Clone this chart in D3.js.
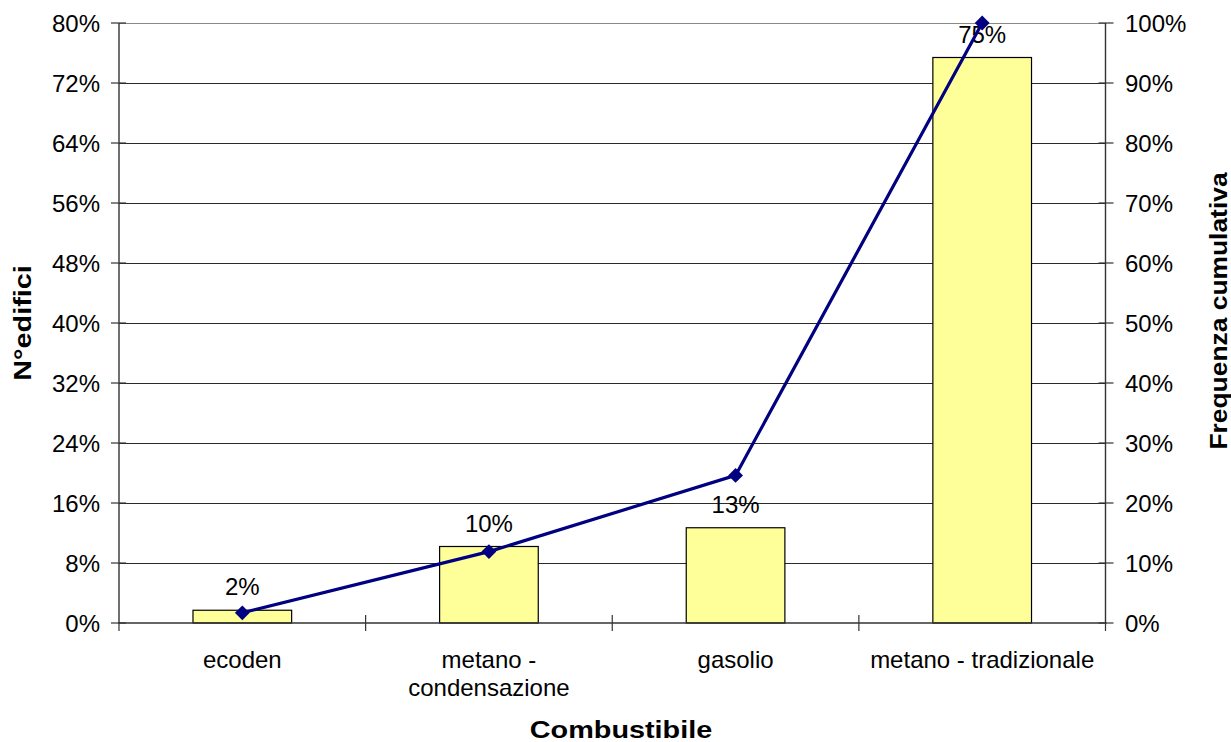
<!DOCTYPE html>
<html>
<head>
<meta charset="utf-8">
<script src="https://cdn.jsdelivr.net/npm/d3@7"></script>
<style>
  html, body { margin: 0; padding: 0; background: #fff; }
  svg { display: block; font-family: "Liberation Sans", Arial, sans-serif; }
</style>
</head>
<body>
<svg id="chart" width="1231" height="742"></svg>
<script>
// ---- data ----
const categories = ["ecoden", "metano - condensazione", "gasolio", "metano - tradizionale"];
const categoryLines = [["ecoden"], ["metano -", "condensazione"], ["gasolio"], ["metano - tradizionale"]];
const shares = [1.7, 10.2, 12.7, 75.4];          // N° edifici (%)
const cumulative = [1.7, 11.9, 24.6, 100];       // Frequenza cumulativa (%)
const leftTicks = [0, 8, 16, 24, 32, 40, 48, 56, 64, 72, 80];
const rightTicks = [0, 10, 20, 30, 40, 50, 60, 70, 80, 90, 100];
const xTitle = "Combustibile";
const yLeftTitle = "N°edifici";
const yRightTitle = "Frequenza cumulativa";

// ---- layout ----
const svg = d3.select("#chart");
const L = 119, R = 1105.5, T = 23, B = 623;

const x = d3.scaleBand().domain(categories).range([L, R]).paddingInner(0.6).paddingOuter(0.3);
const xOuter = d3.scaleBand().domain(categories).range([L, R]);
const yL = d3.scaleLinear().domain([0, 80]).range([B, T]);
const yR = d3.scaleLinear().domain([0, 100]).range([B, T]);

function sText(parent, px, py, str, opts) {
  const g = parent.append("g")
    .attr("transform", `translate(${px},${py}) rotate(${opts.rotate || 0}) scale(${opts.sx || 1},1)`);
  g.append("text")
    .attr("x", 0).attr("y", 0)
    .attr("text-anchor", opts.anchor || "middle")
    .attr("font-size", opts.size || 24)
    .attr("font-weight", opts.weight || "normal")
    .attr("fill", "#000")
    .text(str);
  return g;
}

// gridlines
svg.append("g").selectAll("line").data(leftTicks.filter(d => d > 0)).join("line")
  .attr("x1", L).attr("x2", R)
  .attr("y1", d => Math.round(yL(d)) + 0.5).attr("y2", d => Math.round(yL(d)) + 0.5)
  .attr("stroke", d => d === 80 ? "#8a8a8a" : "#2a2a2a").attr("stroke-width", 1);

// bars
svg.append("g").selectAll("rect").data(shares).join("rect")
  .attr("x", (d, i) => x(categories[i]))
  .attr("width", x.bandwidth())
  .attr("y", d => yL(d))
  .attr("height", d => B - yL(d))
  .attr("fill", "#FFFF99")
  .attr("stroke", "#000")
  .attr("stroke-width", 1.2);

// axes lines
const ax = svg.append("g").attr("stroke", "#333").attr("stroke-width", 1.4);
ax.append("line").attr("x1", L).attr("x2", L).attr("y1", T).attr("y2", B);
ax.append("line").attr("x1", R).attr("x2", R).attr("y1", T).attr("y2", B);
ax.append("line").attr("x1", L - 1).attr("x2", R + 1).attr("y1", B).attr("y2", B);

// left ticks & labels
const lt = svg.append("g");
leftTicks.forEach(v => {
  const yy = yL(v);
  lt.append("line").attr("x1", L - 8).attr("x2", L + 7).attr("y1", yy).attr("y2", yy)
    .attr("stroke", "#333").attr("stroke-width", 1.2);
  sText(lt, 100, yy + 8.5, v + "%", { anchor: "end", size: 24 });
});
// right ticks & labels
rightTicks.forEach(v => {
  const yy = yR(v);
  lt.append("line").attr("x1", R - 7).attr("x2", R + 8).attr("y1", yy).attr("y2", yy)
    .attr("stroke", "#333").attr("stroke-width", 1.2);
  sText(lt, 1125, yy + 8.5, v + "%", { anchor: "start", size: 24 });
});
// category ticks
const bounds = categories.map(c => xOuter(c)).concat([R]);
bounds.forEach((bx, i) => {
  lt.append("line").attr("x1", bx).attr("x2", bx)
    .attr("y1", (i === 0 || i === bounds.length - 1) ? B : B - 8).attr("y2", B + 8)
    .attr("stroke", "#333").attr("stroke-width", 1.2);
});
// category labels
categoryLines.forEach((lines, i) => {
  const cx = xOuter(categories[i]) + xOuter.bandwidth() / 2;
  lines.forEach((ln, j) => sText(lt, cx, 668 + j * 28, ln, { size: 24 }));
});

// data labels
shares.forEach((v, i) => {
  const cx = x(categories[i]) + x.bandwidth() / 2;
  sText(svg, cx, yL(v) - 15, Math.round(v) + "%", { size: 24 });
});

// cumulative line
const lineGen = d3.line()
  .x((d, i) => xOuter(categories[i]) + xOuter.bandwidth() / 2)
  .y(d => yR(d));
svg.append("path").datum(cumulative)
  .attr("d", lineGen)
  .attr("fill", "none")
  .attr("stroke", "#000080")
  .attr("stroke-width", 3.2);
svg.append("g").selectAll("path").data(cumulative).join("path")
  .attr("d", d3.symbol(d3.symbolDiamond2, 140)())
  .attr("transform", (d, i) => `translate(${xOuter(categories[i]) + xOuter.bandwidth() / 2},${yR(d)})`)
  .attr("fill", "#000080");

// axis titles
sText(svg, 621, 738, xTitle, { size: 24, weight: "bold", sx: 1.2 });
sText(svg, 31, 323, yLeftTitle, { size: 24, weight: "bold", sx: 1.2, rotate: -90 });
sText(svg, 1227, 311, yRightTitle, { size: 24, weight: "bold", sx: 1.1, rotate: -90 });
</script>
</body>
</html>
